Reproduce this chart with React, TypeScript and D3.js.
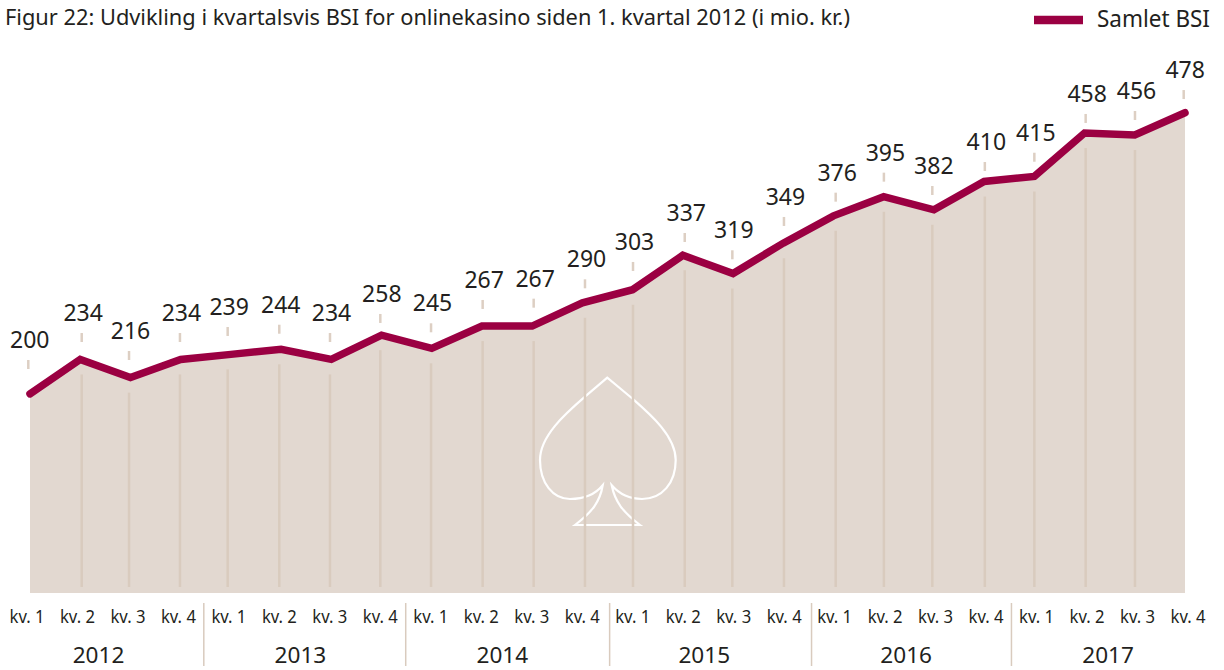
import React from "react";
import * as d3 from "d3";

const years = ["2012", "2013", "2014", "2015", "2016", "2017"];
const quarters = ["kv. 1", "kv. 2", "kv. 3", "kv. 4"];
const bsi = [200, 234, 216, 234, 239, 244, 234, 258, 245, 267, 267, 290, 303, 337, 319, 349, 376, 395, 382, 410, 415, 458, 456, 478];

const W = 1224;
const H = 670;
const periods = years.flatMap((y) => quarters.map((q) => `${y} ${q}`));

const x = d3.scalePoint<string>().domain(periods).range([30, 1185]);
const xLabels = d3.scalePoint<string>().domain(periods).range([27, 1188]);
const y = d3.scaleLinear().domain([0, 500]).range([596, 90.5]);

// the labels and guide lines were placed by hand in the original, so they wander a bit
const guideNudge = [-1.7, 1.5, -1.4, -0.7, -3.2, -1.8, -1.3, -1.2, -0.7, 0.7, 1.5, 2.6, 0.4, 1.9, -0.7, 0.7, 2.2, 0.2, -1.6, 0.7, 0, 1.1, 0.2, -1.3];
const labelLift = [45.8, 38.4, 38.6, 38.4, 39.4, 36.6, 38.4, 33.2, 37, 38.1, 39.4, 35.5, 39.7, 34.3, 35.2, 38.2, 35.2, 36, 35.8, 31.5, 35.7, 31, 36, 34.7];
const separatorNudge = [0, 0, 2, 2, 0];

const BOTTOM = 593;
const TEXT = "#231f20";
const FONT = "'Noto Sans', sans-serif";

const pts = bsi.map((v, i) => ({ v, key: periods[i] }));

const lineGen = d3
  .line<{ v: number; key: string }>()
  .x((d) => x(d.key)!)
  .y((d) => y(d.v));

const areaGen = d3
  .area<{ v: number; key: string }>()
  .x((d) => x(d.key)!)
  .y0(BOTTOM)
  .y1((d) => y(d.v));

// spade watermark
const spade = () => {
  const p = d3.path();
  p.moveTo(607.3, 377.7);
  p.lineTo(585, 396.7);
  p.bezierCurveTo(565, 414, 540, 436, 540, 460);
  p.bezierCurveTo(540, 483, 553, 499, 570, 499);
  p.bezierCurveTo(583, 499, 594, 496, 602.7, 485.3);
  p.bezierCurveTo(600, 502, 592, 512, 575, 525);
  p.lineTo(640, 525);
  p.bezierCurveTo(623, 512, 615, 502, 611.7, 485.3);
  p.bezierCurveTo(621, 496, 632, 499, 642, 499);
  p.bezierCurveTo(662, 499, 675.7, 483, 675.7, 460);
  p.bezierCurveTo(675.7, 436, 650, 414, 631.7, 398);
  p.closePath();
  return p.toString();
};

export default function App() {
  const step = x.step();
  return (
    <svg
      width={W}
      height={H}
      viewBox={`0 0 ${W} ${H}`}
      style={{ position: "absolute", left: 0, top: 0, background: "#fff" }}
      fontFamily={FONT}
      fill={TEXT}
    >
      <text x={5} y={25} fontSize={22} textLength={845} lengthAdjust="spacingAndGlyphs">
        Figur 22: Udvikling i kvartalsvis BSI for onlinekasino siden 1. kvartal 2012 (i mio. kr.)
      </text>

      <line x1={1034} x2={1083} y1={20} y2={20} stroke="#9b0042" strokeWidth={8.5} />
      <text x={1097} y={27} fontSize={23} textLength={113} lengthAdjust="spacingAndGlyphs">
        Samlet BSI
      </text>

      <path d={areaGen(pts)!} fill="#e2d8d0" />
      <path d={spade()} fill="none" stroke="#fff" strokeWidth={2.2} strokeLinejoin="miter" />

      {pts.slice(1, -1).map((d, i) => {
        const gx = x(d.key)! + guideNudge[i + 1];
        return (
          <line
            key={d.key}
            x1={gx}
            x2={gx}
            y1={y(d.v) + 15}
            y2={587}
            stroke="#d9cbbe"
            strokeWidth={2.5}
          />
        );
      })}

      {pts.map((d, i) => {
        const gx = x(d.key)! + guideNudge[i];
        const base = y(d.v) - labelLift[i];
        return (
          <g key={d.key}>
            <line x1={gx} x2={gx} y1={base + 12} y2={base + 21} stroke="#ddcfc3" strokeWidth={2.5} />
            <text x={gx + 1.5} y={base} fontSize={23} textAnchor="middle">
              {d.v}
            </text>
          </g>
        );
      })}

      <path
        d={lineGen(pts)!}
        fill="none"
        stroke="#9b0042"
        strokeWidth={7.5}
        strokeLinecap="round"
        strokeLinejoin="miter"
      />

      {periods.map((key, i) => (
        <text
          key={key}
          x={xLabels(key)}
          y={623}
          fontSize={17.8}
          textAnchor="middle"
          textLength={35}
          lengthAdjust="spacingAndGlyphs"
        >
          {quarters[i % 4]}
        </text>
      ))}

      {years.map((yr, i) => {
        const first = xLabels(`${yr} kv. 1`)!;
        const last = xLabels(`${yr} kv. 4`)!;
        const mid = (first + last) / 2;
        const sep = first - step / 2 + (separatorNudge[i - 1] ?? 0);
        return (
          <g key={yr}>
            <text x={mid - 4.2} y={663.2} fontSize={22.6} textAnchor="middle">
              {yr}
            </text>
            {i > 0 && <line x1={sep} x2={sep} y1={603} y2={666} stroke="#d9cbbe" strokeWidth={1.5} />}
          </g>
        );
      })}
    </svg>
  );
}
